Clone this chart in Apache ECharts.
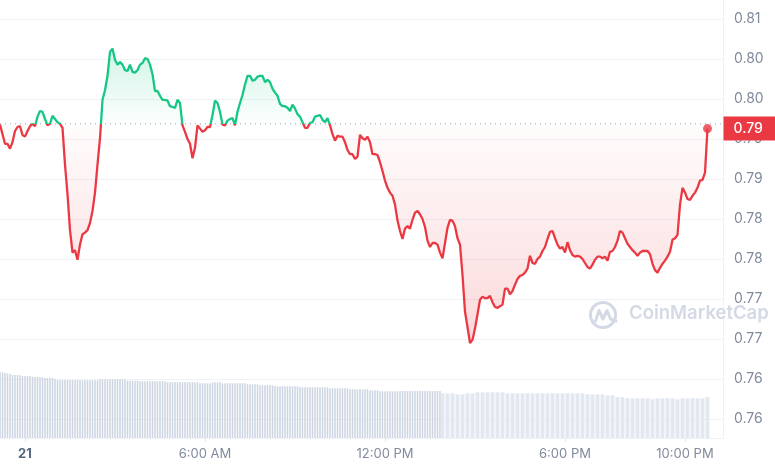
<!DOCTYPE html>
<html><head><meta charset="utf-8">
<script src="https://cdn.jsdelivr.net/npm/echarts@6/dist/echarts.min.js"></script>
<style>html,body{margin:0;padding:0;background:#fff}#c{width:775px;height:470px}</style>
</head><body><div id="c"></div>
<script>
// Time axis: minutes relative to 00:00 on the 21st (5-minute price samples)
const priceStartMinute = -50;
const priceStepMinutes = 5;
const prices = [
0.7943,0.7931,0.7919,0.7919,0.7913,0.7921,0.7935,0.7940,0.7941,0.7930,
0.7928,0.7935,0.7941,0.7944,0.7941,0.7953,0.7960,0.7959,0.7950,0.7942,
0.7944,0.7954,0.7950,0.7946,0.7944,0.7939,0.7893,0.7856,0.7811,0.7783,
0.7786,0.7774,0.7793,0.7806,0.7808,0.7811,0.7820,0.7835,0.7858,0.7893,
0.7926,0.7974,0.7986,0.8004,0.8034,0.8038,0.8024,0.8018,0.8021,0.8018,
0.8011,0.8010,0.8018,0.8009,0.8008,0.8011,0.8018,0.8020,0.8026,0.8025,
0.8018,0.8006,0.7985,0.7985,0.7979,0.7974,0.7974,0.7973,0.7966,0.7965,
0.7964,0.7974,0.7970,0.7942,0.7934,0.7925,0.7919,0.7901,0.7914,0.7942,
0.7938,0.7934,0.7936,0.7940,0.7940,0.7955,0.7973,0.7970,0.7959,0.7943,
0.7942,0.7948,0.7950,0.7951,0.7942,0.7959,0.7970,0.7980,0.7993,0.8004,
0.8004,0.7998,0.7999,0.8003,0.8004,0.8004,0.7996,0.7999,0.7996,0.7988,
0.7983,0.7979,0.7969,0.7966,0.7966,0.7964,0.7960,0.7968,0.7963,0.7956,
0.7953,0.7946,0.7939,0.7939,0.7945,0.7946,0.7953,0.7954,0.7955,0.7949,
0.7946,0.7951,0.7942,0.7931,0.7923,0.7929,0.7928,0.7928,0.7921,0.7911,
0.7906,0.7906,0.7900,0.7903,0.7930,0.7926,0.7924,0.7928,0.7921,0.7906,
0.7906,0.7905,0.7896,0.7885,0.7873,0.7864,0.7858,0.7854,0.7843,0.7823,
0.7810,0.7800,0.7813,0.7816,0.7813,0.7824,0.7833,0.7835,0.7831,0.7825,
0.7815,0.7798,0.7790,0.7795,0.7795,0.7793,0.7783,0.7776,0.7795,0.7814,
0.7824,0.7823,0.7816,0.7801,0.7793,0.7755,0.7709,0.7690,0.7670,0.7674,
0.7688,0.7706,0.7724,0.7728,0.7726,0.7726,0.7729,0.7721,0.7715,0.7714,
0.7716,0.7718,0.7738,0.7738,0.7731,0.7735,0.7743,0.7750,0.7754,0.7755,
0.7758,0.7763,0.7779,0.7770,0.7769,0.7775,0.7778,0.7785,0.7790,0.7800,
0.7809,0.7810,0.7801,0.7793,0.7788,0.7790,0.7783,0.7796,0.7786,0.7780,
0.7778,0.7779,0.7778,0.7775,0.7770,0.7765,0.7763,0.7768,0.7774,0.7778,
0.7778,0.7776,0.7778,0.7773,0.7784,0.7785,0.7790,0.7798,0.7810,0.7808,
0.7801,0.7794,0.7790,0.7786,0.7783,0.7779,0.7783,0.7785,0.7785,0.7785,
0.7781,0.7769,0.7761,0.7758,0.7764,0.7769,0.7773,0.7778,0.7784,0.7799,
0.7801,0.7805,0.7843,0.7864,0.7858,0.7850,0.7849,0.7854,0.7858,0.7864,
0.7873,0.7874,0.7883,0.7938
];
const openPrice = 0.7944;       // 24h reference price (dotted line)
const lastPriceLabel = '0.79';

// Volume (relative units): 5-minute bars, then 10-minute bars
const volumeFineStartMinute = -50;
const volumeFineStep = 5;
const volumeFine = [
65.7,65.7,65.3,64.7,64,63,63,63,62.8,62,
62,62,62,61.3,61,61,60.7,60.7,60,60,
60,60,59,58,58,58,58,58,58,58,
58,58,57.7,57.7,57.7,57.7,57.7,57.7,57.7,57.7,
58.7,58.7,58.7,58.7,58.7,58.7,58.7,58.7,58.7,58.7,
58.7,57.3,57.3,57.3,57.3,57.3,56.7,56.7,56.7,56.7,
56.7,56.7,56.7,56.7,56.7,56.7,56.7,55.7,55.7,55.7,
55.7,55.7,55.7,55.7,55.7,55.7,55.7,55.7,55.7,55.7,
54.7,54.7,54.7,54.7,54.7,55.7,55.7,55.7,55.7,54.7,
54.7,54.7,54.7,54.7,54.7,54.7,54.7,54.7,54.7,53.7,
53.7,53.7,53.7,53.7,52.7,52.7,52.7,52.7,52.7,52.7,
51.7,51.7,51.7,51.7,51.7,51.7,51.7,51.7,51.7,51.7,
50.7,50.7,50.7,50.7,50.7,50.7,50.7,50.7,50.7,50.7,
50.7,50.7,49.7,49.7,49.7,49.7,49.7,49.7,49.7,49.7,
48.7,48.7,48.7,48.7,48.7,48.7,48.7,48.7,47.7,47.7,
47.7,47.7,46.7,46.7,46.7,46.7,46.7,46.7,46.7,46.7,
47,47,47,47,47,47,47,47,47,47,
47,47,47,47,47,47,47
];
const volumeCoarseStartMinute = 835;
const volumeCoarseStep = 10;
const volumeCoarse = [
44.7,44.7,44.7,43.7,43.7,44.7,44.7,45.7,45.7,45.7,
45.7,45.7,45.7,44.7,44.7,44.7,44.7,44.7,44.7,44.7,
44.7,44.7,44.7,44.7,44.7,44.7,44.7,44.7,44.7,43.7,
43.7,43.7,43.7,42.7,42.7,41,40.7,39.7,39.7,39.7,
39.7,39.7,38.7,39.7,39.7,39.7,39.7,38.7,39.7,39.7,
39.7,39.7,39.7,41
];

const xTickValues = [0, 360, 720, 1080, 1320];
const xTickLabels = ['21', '6:00 AM', '12:00 PM', '6:00 PM', '10:00 PM'];
const yMin = 0.7575, yMax = 0.8075, yStep = 0.005;
const yTickLabels = ['0.76','0.76','0.77','0.77','0.78','0.78','0.79','0.79','0.80','0.80','0.81'];

const X_MIN = -50, X_MAX = 1396;
const GREEN = '#16c784', RED = '#ea3943';

const priceData = prices.map((p, i) => [priceStartMinute + i * priceStepMinutes, p]);
const upData = prices.map((p, i) => [priceStartMinute + i * priceStepMinutes, Math.max(p, openPrice)]);
const downData = prices.map((p, i) => [priceStartMinute + i * priceStepMinutes, Math.min(p, openPrice)]);
const volFineData = volumeFine.map((v, i) => [volumeFineStartMinute + i * volumeFineStep, v]);
const volCoarseData = volumeCoarse.map((v, i) => [volumeCoarseStartMinute + i * volumeCoarseStep, v]);
const lastPoint = priceData[priceData.length - 1];

const chart = echarts.init(document.getElementById('c'), null, {renderer: 'canvas'});
const hiddenX = (grid) => ({type: 'value', gridIndex: grid, min: X_MIN, max: X_MAX, show: false});

chart.setOption({
  animation: false,
  backgroundColor: '#ffffff',
  textStyle: {fontFamily: 'Inter, "Noto Sans", sans-serif'},
  grid: [
    {left: 0, right: 52, top: 0, bottom: 32},
    {left: 0, right: 52, top: 19, bottom: 51}
  ],
  xAxis: [
    {
      type: 'value', gridIndex: 0, min: X_MIN, max: X_MAX,
      splitLine: {show: false},
      axisLine: {show: true, onZero: false, lineStyle: {color: '#eff2f5', width: 1}},
      axisTick: {show: true, customValues: xTickValues, length: 4, lineStyle: {color: '#e6e9ee'}},
      axisLabel: {
        show: true, customValues: xTickValues, margin: 10,
        fontSize: 13, color: '#808a9d', fontFamily: 'Inter, sans-serif',
        formatter: function (v) {
          const i = xTickValues.indexOf(v);
          if (i < 0) return '';
          return i === 0 ? '{b|' + xTickLabels[i] + '}' : xTickLabels[i];
        },
        rich: {b: {fontSize: 13, fontWeight: 700, color: '#58667e', fontFamily: 'Inter, sans-serif'}}
      }
    },
    hiddenX(0),
    hiddenX(1)
  ],
  yAxis: [
    {
      type: 'value', gridIndex: 0, min: 0, max: 438, position: 'right',
      axisLine: {show: true, onZero: false, lineStyle: {color: '#eff2f5'}},
      axisTick: {show: false}, axisLabel: {show: false}, splitLine: {show: false}
    },
    {
      type: 'value', gridIndex: 1, min: yMin, max: yMax, interval: yStep, position: 'right',
      axisLine: {show: false, onZero: false}, axisTick: {show: false},
      splitLine: {show: true, lineStyle: {color: '#eff2f5', width: 1}},
      axisLabel: {
        margin: 11, fontSize: 14, color: '#808a9d', fontFamily: 'Inter, sans-serif',
        formatter: function (v) {
          const i = Math.round((v - yMin) / yStep);
          return yTickLabels[i] !== undefined ? yTickLabels[i] : '';
        }
      }
    }
  ],
  graphic: [
    {
      type: 'group', left: 588, top: 300, z: 1, silent: true,
      children: [
        {type: 'circle', shape: {cx: 13, cy: 13, r: 12.5}, style: {fill: 'none', stroke: '#d3d9e5', lineWidth: 3}},
        {type: 'polyline', shape: {points: [[5.5, 19], [9, 8.5], [13, 17], [17, 8.5], [20.5, 17], [26, 19]]},
         style: {fill: 'none', stroke: '#d3d9e5', lineWidth: 3, lineJoin: 'round', lineCap: 'round'}}
      ]
    },
    {
      type: 'text', left: 629, top: 303.5, z: 1, silent: true,
      style: {text: 'CoinMarketCap', fontSize: 18.5, fontWeight: 600, fill: '#d3d9e5', fontFamily: 'Inter, sans-serif'}
    }
  ],
  series: [
    {
      name: 'Volume', type: 'bar', xAxisIndex: 0, yAxisIndex: 0, data: volFineData,
      barWidth: 1.5, itemStyle: {color: '#ccd4e2'}, silent: true
    },
    {
      name: 'Volume2', type: 'bar', xAxisIndex: 1, yAxisIndex: 0, data: volCoarseData,
      barWidth: 4, itemStyle: {color: '#e3e8f0'}, silent: true
    },
    {
      name: 'Up area', type: 'line', xAxisIndex: 2, yAxisIndex: 1, data: upData,
      showSymbol: false, symbol: 'none', silent: true, lineStyle: {width: 0},
      areaStyle: {origin: openPrice, color: new echarts.graphic.LinearGradient(0, 0, 0, 1, [
        {offset: 0, color: 'rgba(22,199,132,0.28)'}, {offset: 1, color: 'rgba(22,199,132,0.02)'}])}
    },
    {
      name: 'Down area', type: 'line', xAxisIndex: 2, yAxisIndex: 1, data: downData,
      showSymbol: false, symbol: 'none', silent: true, lineStyle: {width: 0},
      areaStyle: {origin: openPrice, color: new echarts.graphic.LinearGradient(0, 0, 0, 1, [
        {offset: 0, color: 'rgba(234,57,67,0.02)'}, {offset: 1, color: 'rgba(234,57,67,0.28)'}])}
    },
    {
      name: 'Open', type: 'line', xAxisIndex: 2, yAxisIndex: 1, z: 3, silent: true,
      data: [[X_MIN, openPrice], [X_MAX, openPrice]],
      showSymbol: false, symbol: 'none',
      lineStyle: {type: [1, 4], color: '#9aa3b5', width: 1}
    },
    {
      name: 'Price', type: 'line', xAxisIndex: 2, yAxisIndex: 1, data: priceData, z: 5,
      showSymbol: false, symbol: 'none', lineStyle: {width: 2.3, color: RED}
    },
    {
      name: 'Last', type: 'scatter', xAxisIndex: 2, yAxisIndex: 1, z: 6, silent: true, clip: false,
      data: [lastPoint], symbol: 'circle', symbolSize: 9, itemStyle: {color: RED}
    },
    {
      name: 'Last label', type: 'scatter', xAxisIndex: 2, yAxisIndex: 1, z: 7, silent: true, clip: false,
      data: [[X_MAX, lastPoint[1]]], symbol: 'rect', symbolSize: 1,
      itemStyle: {color: 'rgba(0,0,0,0)'},
      label: {show: true, position: 'right', distance: 0, formatter: lastPriceLabel, opacity: 1,
              backgroundColor: RED, color: '#ffffff', fontSize: 14, fontWeight: 500,
              fontFamily: 'Inter, sans-serif', padding: [5, 14, 5, 10]},
      labelLayout: {hideOverlap: false}
    }
  ]
});

// Split the price line colour at the open price: green above, red below
const baseY = chart.convertToPixel({yAxisIndex: 1}, openPrice);
const H = 470;
const off = Math.min(1, Math.max(0, baseY / H));
chart.setOption({
  series: [{}, {}, {}, {}, {}, {
    lineStyle: {
      color: new echarts.graphic.LinearGradient(0, 0, 0, H, [
        {offset: 0, color: GREEN}, {offset: off, color: GREEN},
        {offset: off, color: RED}, {offset: 1, color: RED}
      ], true)
    }
  }]
});
</script>
</body></html>
